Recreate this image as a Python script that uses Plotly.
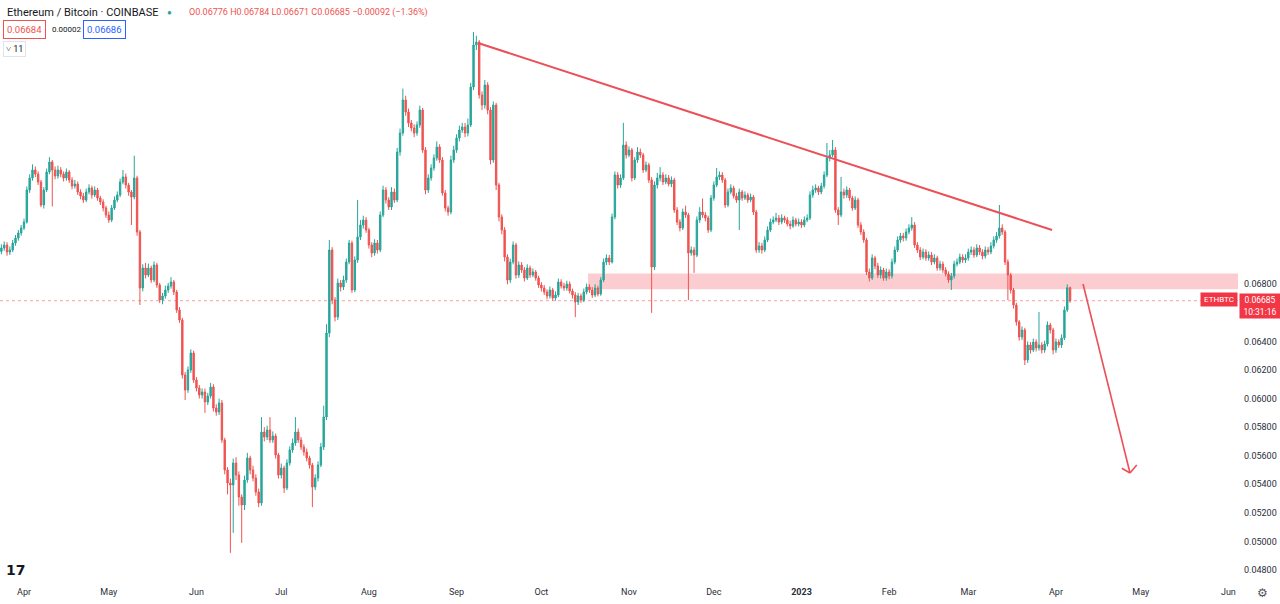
import pandas as pd
import plotly.graph_objects as go

# ---------------- data (ETH/BTC daily, Coinbase) ----------------
first_date = "2022-03-24"
first_open = 0.07030

close = [
 0.07054,0.07075,0.07026,0.07040,0.07089,0.07124,0.07159,0.07194,0.07236,0.07460,
 0.07544,0.07600,0.07572,0.07516,0.07355,0.07460,0.07586,0.07656,0.07600,0.07558,
 0.07600,0.07572,0.07544,0.07586,0.07530,0.07488,0.07502,0.07446,0.07418,0.07390,
 0.07446,0.07474,0.07425,0.07460,0.07404,0.07376,0.07334,0.07285,0.07250,0.07334,
 0.07390,0.07425,0.07516,0.07551,0.07495,0.07446,0.07411,0.07544,0.07166,0.06774,
 0.06914,0.06865,0.06914,0.06830,0.06935,0.06795,0.06690,0.06718,0.06760,0.06788,
 0.06816,0.06746,0.06620,0.06550,0.06165,0.06060,0.06200,0.06319,0.06130,0.06074,
 0.06025,0.06046,0.05976,0.06018,0.06081,0.05934,0.05906,0.05969,0.05710,0.05500,
 0.05409,0.05395,0.05549,0.05465,0.05311,0.05255,0.05430,0.05584,0.05500,0.05444,
 0.05346,0.05269,0.05766,0.05731,0.05780,0.05710,0.05738,0.05605,0.05465,0.05514,
 0.05374,0.05549,0.05640,0.05689,0.05766,0.05710,0.05661,0.05626,0.05584,0.05535,
 0.05381,0.05444,0.05535,0.05661,0.05871,0.06459,0.07040,0.06690,0.06571,0.06809,
 0.06781,0.06830,0.06956,0.07089,0.06760,0.06970,0.07131,0.07215,0.07250,0.07180,
 0.07075,0.07019,0.07089,0.07040,0.07285,0.07460,0.07390,0.07341,0.07446,0.07390,
 0.07726,0.07859,0.08090,0.08006,0.07929,0.07894,0.07859,0.07915,0.08020,0.07740,
 0.07460,0.07544,0.07614,0.07684,0.07761,0.07670,0.07439,0.07334,0.07306,0.07670,
 0.07740,0.07824,0.07880,0.07901,0.07859,0.07915,0.08181,0.08475,0.08496,0.08125,
 0.08055,0.08195,0.08020,0.07670,0.08055,0.07495,0.07271,0.07180,0.06991,0.06830,
 0.06956,0.07075,0.06865,0.06935,0.06900,0.06844,0.06914,0.06865,0.06886,0.06844,
 0.06795,0.06774,0.06746,0.06718,0.06760,0.06704,0.06725,0.06816,0.06788,0.06774,
 0.06802,0.06753,0.06725,0.06676,0.06718,0.06690,0.06746,0.06781,0.06760,0.06725,
 0.06774,0.06732,0.06830,0.06956,0.06984,0.06956,0.07271,0.07565,0.07495,0.07544,
 0.07775,0.07705,0.07740,0.07544,0.07670,0.07726,0.07705,0.07600,0.07635,0.07530,
 0.06921,0.07495,0.07544,0.07565,0.07516,0.07544,0.07502,0.07530,0.07320,0.07236,
 0.07194,0.07306,0.07285,0.07019,0.07040,0.07005,0.07250,0.07306,0.07285,0.07264,
 0.07180,0.07404,0.07495,0.07551,0.07565,0.07530,0.07355,0.07446,0.07474,0.07418,
 0.07390,0.07446,0.07404,0.07425,0.07390,0.07411,0.07306,0.07040,0.07068,0.07040,
 0.07110,0.07180,0.07236,0.07250,0.07264,0.07236,0.07264,0.07250,0.07222,0.07208,
 0.07250,0.07222,0.07236,0.07215,0.07250,0.07264,0.07425,0.07460,0.07474,0.07446,
 0.07488,0.07565,0.07684,0.07705,0.07740,0.07320,0.07285,0.07446,0.07425,0.07460,
 0.07404,0.07334,0.07390,0.07215,0.07166,0.07110,0.06886,0.06844,0.06984,0.06928,
 0.06865,0.06900,0.06844,0.06886,0.06858,0.06956,0.07040,0.07110,0.07138,0.07124,
 0.07166,0.07194,0.07215,0.07075,0.07040,0.06991,0.07026,0.06984,0.07005,0.06956,
 0.06984,0.06914,0.06942,0.06900,0.06872,0.06830,0.06858,0.06942,0.06956,0.06991,
 0.06970,0.06984,0.07026,0.07040,0.07005,0.07054,0.07026,0.06998,0.07040,0.07026,
 0.07068,0.07110,0.07138,0.07194,0.07166,0.06956,0.06865,0.06760,0.06655,0.06536,
 0.06431,0.06480,0.06270,0.06375,0.06340,0.06396,0.06354,0.06375,0.06340,0.06382,
 0.06515,0.06480,0.06340,0.06396,0.06375,0.06424,0.06620,0.06776,0.06685,
]

high = [
 0.07080,0.07100,0.07095,0.07065,0.07110,0.07145,0.07180,0.07215,0.07260,0.07485,
 0.07570,0.07640,0.07625,0.07590,0.07530,0.07480,0.07610,0.07690,0.07670,0.07625,
 0.07630,0.07620,0.07590,0.07610,0.07600,0.07550,0.07530,0.07520,0.07465,0.07440,
 0.07470,0.07500,0.07490,0.07485,0.07475,0.07420,0.07395,0.07350,0.07310,0.07355,
 0.07415,0.07450,0.07540,0.07600,0.07575,0.07510,0.07460,0.07700,0.07560,0.07180,
 0.06940,0.06950,0.06945,0.06930,0.06960,0.06950,0.06810,0.06740,0.06790,0.06810,
 0.06850,0.06830,0.06760,0.06640,0.06565,0.06185,0.06225,0.06345,0.06335,0.06150,
 0.06095,0.06070,0.06070,0.06040,0.06110,0.06100,0.05960,0.06000,0.05990,0.05725,
 0.05520,0.05440,0.05580,0.05590,0.05490,0.05330,0.05460,0.05620,0.05600,0.05530,
 0.05470,0.05370,0.05870,0.05800,0.05810,0.05870,0.05770,0.05755,0.05620,0.05545,
 0.05530,0.05575,0.05665,0.05720,0.05870,0.05790,0.05730,0.05680,0.05650,0.05600,
 0.05550,0.05470,0.05560,0.05690,0.05950,0.06520,0.07110,0.07060,0.06710,0.06840,
 0.06830,0.06860,0.06980,0.07110,0.07105,0.06995,0.07390,0.07250,0.07280,0.07270,
 0.07195,0.07095,0.07115,0.07110,0.07310,0.07490,0.07480,0.07410,0.07480,0.07470,
 0.07755,0.07890,0.08170,0.08120,0.08030,0.07950,0.07920,0.07940,0.08050,0.08035,
 0.07760,0.07570,0.07640,0.07710,0.07800,0.07780,0.07690,0.07460,0.07350,0.07700,
 0.07770,0.07850,0.07910,0.07930,0.07930,0.07960,0.08210,0.08566,0.08540,0.08510,
 0.08150,0.08230,0.08215,0.08040,0.08080,0.08070,0.07510,0.07290,0.07200,0.07010,
 0.06980,0.07100,0.07090,0.06960,0.06955,0.06920,0.06940,0.06930,0.06910,0.06900,
 0.06860,0.06815,0.06795,0.06765,0.06785,0.06775,0.06750,0.06840,0.06835,0.06810,
 0.06825,0.06820,0.06770,0.06745,0.06740,0.06735,0.06770,0.06805,0.06800,0.06780,
 0.06800,0.06790,0.06850,0.06980,0.07010,0.07005,0.07295,0.07590,0.07585,0.07570,
 0.07930,0.07800,0.07765,0.07755,0.07690,0.07760,0.07750,0.07720,0.07660,0.07650,
 0.07550,0.07520,0.07580,0.07620,0.07585,0.07570,0.07565,0.07555,0.07545,0.07340,
 0.07255,0.07330,0.07350,0.07300,0.07065,0.07060,0.07275,0.07340,0.07400,0.07305,
 0.07280,0.07425,0.07520,0.07614,0.07590,0.07585,0.07545,0.07470,0.07500,0.07490,
 0.07440,0.07470,0.07460,0.07450,0.07440,0.07435,0.07425,0.07320,0.07095,0.07090,
 0.07135,0.07205,0.07260,0.07275,0.07300,0.07285,0.07290,0.07280,0.07270,0.07245,
 0.07275,0.07265,0.07260,0.07255,0.07275,0.07290,0.07450,0.07490,0.07500,0.07490,
 0.07510,0.07590,0.07789,0.07740,0.07810,0.07760,0.07340,0.07551,0.07470,0.07485,
 0.07475,0.07420,0.07415,0.07405,0.07235,0.07185,0.07125,0.06910,0.07010,0.07000,
 0.06950,0.06925,0.06915,0.06910,0.06905,0.06980,0.07065,0.07135,0.07160,0.07160,
 0.07190,0.07220,0.07270,0.07235,0.07095,0.07060,0.07050,0.07045,0.07030,0.07025,
 0.07010,0.07000,0.06965,0.06960,0.06920,0.06890,0.06880,0.06965,0.06980,0.07015,
 0.07010,0.07010,0.07050,0.07065,0.07060,0.07080,0.07075,0.07045,0.07065,0.07060,
 0.07095,0.07135,0.07165,0.07355,0.07220,0.07180,0.06975,0.06880,0.06775,0.06670,
 0.06550,0.06505,0.06495,0.06400,0.06395,0.06420,0.06415,0.06606,0.06395,0.06405,
 0.06540,0.06530,0.06495,0.06420,0.06415,0.06450,0.06645,0.06800,0.06784,
]

low = [
 0.07010,0.07035,0.07000,0.07005,0.07025,0.07070,0.07105,0.07140,0.07180,0.07225,
 0.07440,0.07525,0.07550,0.07495,0.07340,0.07330,0.07445,0.07570,0.07345,0.07535,
 0.07540,0.07550,0.07520,0.07525,0.07510,0.07465,0.07470,0.07425,0.07395,0.07370,
 0.07375,0.07430,0.07400,0.07410,0.07385,0.07355,0.07310,0.07265,0.07230,0.07235,
 0.07320,0.07375,0.07410,0.07500,0.07470,0.07420,0.07215,0.07395,0.07140,0.06655,
 0.06750,0.06840,0.06850,0.06810,0.06815,0.06775,0.06670,0.06660,0.06700,0.06740,
 0.06770,0.06725,0.06600,0.06530,0.06140,0.05990,0.06040,0.06180,0.06110,0.06050,
 0.06000,0.06000,0.05900,0.05955,0.06000,0.05910,0.05880,0.05885,0.05690,0.05470,
 0.05330,0.04920,0.05060,0.05430,0.05250,0.04990,0.05220,0.05410,0.05470,0.05420,
 0.05320,0.05240,0.05250,0.05700,0.05710,0.05690,0.05690,0.05580,0.05440,0.05440,
 0.05340,0.05360,0.05530,0.05620,0.05670,0.05690,0.05640,0.05600,0.05560,0.05510,
 0.05240,0.05360,0.05420,0.05520,0.05640,0.05850,0.06430,0.06660,0.06540,0.06550,
 0.06750,0.06760,0.06810,0.06940,0.06740,0.06745,0.06950,0.07110,0.07190,0.07160,
 0.07050,0.06990,0.07000,0.07015,0.07025,0.07270,0.07365,0.07320,0.07320,0.07370,
 0.07375,0.07700,0.07840,0.07980,0.07900,0.07870,0.07830,0.07840,0.07895,0.07720,
 0.07430,0.07440,0.07525,0.07595,0.07665,0.07650,0.07420,0.07310,0.07280,0.07290,
 0.07650,0.07720,0.07800,0.07860,0.07830,0.07835,0.07900,0.08160,0.08440,0.08100,
 0.08020,0.08030,0.07990,0.07640,0.07650,0.07460,0.07240,0.07150,0.06960,0.06800,
 0.06810,0.06940,0.06840,0.06845,0.06880,0.06820,0.06830,0.06845,0.06850,0.06825,
 0.06775,0.06750,0.06725,0.06695,0.06700,0.06685,0.06685,0.06710,0.06770,0.06755,
 0.06755,0.06735,0.06700,0.06570,0.06655,0.06670,0.06675,0.06730,0.06740,0.06705,
 0.06710,0.06715,0.06720,0.06815,0.06935,0.06935,0.06945,0.07255,0.07470,0.07475,
 0.07530,0.07680,0.07690,0.07520,0.07530,0.07650,0.07685,0.07580,0.07585,0.07510,
 0.06600,0.06900,0.07470,0.07520,0.07495,0.07500,0.07485,0.07480,0.07300,0.07215,
 0.07170,0.07180,0.07265,0.06690,0.07000,0.06880,0.06990,0.07230,0.07265,0.07240,
 0.07160,0.07165,0.07385,0.07480,0.07530,0.07510,0.07335,0.07340,0.07430,0.07400,
 0.07370,0.07180,0.07385,0.07390,0.07370,0.07375,0.07285,0.07020,0.07020,0.07015,
 0.07025,0.07095,0.07165,0.07220,0.07235,0.07215,0.07220,0.07230,0.07205,0.07185,
 0.07195,0.07205,0.07205,0.07195,0.07200,0.07235,0.07250,0.07405,0.07440,0.07425,
 0.07430,0.07470,0.07550,0.07660,0.07690,0.07300,0.07215,0.07270,0.07400,0.07405,
 0.07385,0.07315,0.07320,0.07195,0.07145,0.07090,0.06865,0.06820,0.06830,0.06905,
 0.06845,0.06840,0.06825,0.06825,0.06835,0.06840,0.06940,0.07025,0.07090,0.07100,
 0.07105,0.07150,0.07175,0.07055,0.07020,0.06970,0.06975,0.06965,0.06965,0.06935,
 0.06940,0.06895,0.06895,0.06880,0.06855,0.06810,0.06760,0.06840,0.06925,0.06940,
 0.06950,0.06950,0.06965,0.07005,0.06985,0.06990,0.07005,0.06975,0.06980,0.07005,
 0.07010,0.07050,0.07090,0.07120,0.07145,0.06935,0.06690,0.06735,0.06630,0.06510,
 0.06405,0.06410,0.06235,0.06250,0.06315,0.06325,0.06330,0.06335,0.06315,0.06320,
 0.06365,0.06455,0.06310,0.06320,0.06355,0.06355,0.06410,0.06605,0.06671,
]

# drawings made on the chart (data coordinates)
trend_line = [("2022-09-08 14:00", 0.08489), ("2023-03-30 15:00", 0.07180)]
zone = {"x0": "2022-10-17 12:00", "y0": 0.06765, "y1": 0.06875}
arrow_line = [("2023-04-10 14:00", 0.06802), ("2023-04-27 05:00", 0.05479)]
arrow_head = [("2023-04-24 07:00", 0.05512), ("2023-04-27 05:00", 0.05479), ("2023-04-29 14:00", 0.05535)]
last_price = 0.06685

month_ticks = ["2022-04-01", "2022-05-01", "2022-06-01", "2022-07-01", "2022-08-01",
               "2022-09-01", "2022-10-01", "2022-11-01", "2022-12-01", "2023-01-01",
               "2023-02-01", "2023-03-01", "2023-04-01", "2023-05-01", "2023-06-01"]
month_labels = ["Apr", "May", "Jun", "Jul", "Aug", "Sep", "Oct", "Nov", "Dec", "<b>2023</b>",
                "Feb", "Mar", "Apr", "May", "Jun"]
price_ticks = [0.048, 0.050, 0.052, 0.054, 0.056, 0.058, 0.060, 0.062, 0.064, 0.068]

# ---------------- figure ----------------
dates = pd.date_range(first_date, periods=len(close), freq="D")
opens = [first_open] + close[:-1]

UP = "#26a69a"
DOWN = "#ef5350"
DRAW = "#ec4f57"

W, H = 1280, 604
ML, MR, MT, MB = 0, 42, 0, 24
PW, PH = W - ML - MR, H - MT - MB
X_RANGE = ["2022-03-23 12:15", "2023-06-04 09:30"]
Y_RANGE = [0.0473, 0.0879]


def px(x):
    return (x - ML) / PW


def py(y):
    return 1 - (y - MT) / PH


fig = go.Figure()
fig.add_trace(go.Candlestick(
    x=dates, open=opens, high=high, low=low, close=close,
    increasing=dict(line=dict(color=UP, width=1), fillcolor=UP),
    decreasing=dict(line=dict(color=DOWN, width=1), fillcolor=DOWN),
    whiskerwidth=0, showlegend=False, hoverinfo="skip",
))

shapes = []
# support / resistance zone
shapes.append(dict(type="rect", xref="x", yref="y", x0=zone["x0"], x1=X_RANGE[1],
                   y0=zone["y0"], y1=zone["y1"], fillcolor="rgba(242,54,69,0.25)",
                   line=dict(width=0), layer="below"))
# last price dotted line
shapes.append(dict(type="line", xref="paper", yref="y", x0=0, x1=1, y0=last_price, y1=last_price,
                   line=dict(color="rgba(239,83,80,0.55)", width=1, dash="dot"), layer="below"))
# descending trend line
shapes.append(dict(type="line", xref="x", yref="y",
                   x0=trend_line[0][0], y0=trend_line[0][1], x1=trend_line[1][0], y1=trend_line[1][1],
                   line=dict(color=DRAW, width=2)))
# arrow
shapes.append(dict(type="line", xref="x", yref="y",
                   x0=arrow_line[0][0], y0=arrow_line[0][1], x1=arrow_line[1][0], y1=arrow_line[1][1],
                   line=dict(color=DRAW, width=1.6)))
for a, b in [(arrow_head[0], arrow_head[1]), (arrow_head[1], arrow_head[2])]:
    shapes.append(dict(type="line", xref="x", yref="y", x0=a[0], y0=a[1], x1=b[0], y1=b[1],
                       line=dict(color=DRAW, width=1.6)))

ann = []
FONT = "Roboto"
# header
ann.append(dict(x=px(5), y=py(12), xref="paper", yref="paper", xanchor="left", yanchor="middle",
                text="Ethereum / Bitcoin · COINBASE", showarrow=False,
                font=dict(family=FONT, size=11, color="#131722")))
ann.append(dict(x=px(170), y=py(12), xref="paper", yref="paper", xanchor="center", yanchor="middle",
                text="●", showarrow=False, font=dict(family=FONT, size=8, color=UP)))
ann.append(dict(x=px(187), y=py(12), xref="paper", yref="paper", xanchor="left", yanchor="middle",
                text="O0.06776 H0.06784 L0.06671 C0.06685 −0.00092 (−1.36%)", showarrow=False,
                font=dict(family=FONT, size=9, color=DOWN)))
ann.append(dict(x=px(3), y=py(29), xref="paper", yref="paper", xanchor="left", yanchor="middle",
                text="0.06684", showarrow=False, bordercolor=DOWN, borderwidth=1, borderpad=3,
                bgcolor="white", font=dict(family=FONT, size=9.5, color=DOWN)))
ann.append(dict(x=px(50), y=py(29), xref="paper", yref="paper", xanchor="left", yanchor="middle",
                text="0.00002", showarrow=False, font=dict(family=FONT, size=8, color="#131722")))
ann.append(dict(x=px(83), y=py(29), xref="paper", yref="paper", xanchor="left", yanchor="middle",
                text="0.06686", showarrow=False, bordercolor="#2962ff", borderwidth=1, borderpad=3,
                bgcolor="white", font=dict(family=FONT, size=9.5, color="#2962ff")))
ann.append(dict(x=px(3), y=py(49), xref="paper", yref="paper", xanchor="left", yanchor="middle",
                text="˅ 11", showarrow=False, bordercolor="#e0e3eb", borderwidth=1, borderpad=2,
                bgcolor="white", font=dict(family=FONT, size=9, color="#131722")))
# price label on the scale
ann.append(dict(x=px(1200), y=py(299.5), xref="paper", yref="paper", xanchor="left", yanchor="middle",
                text="ETHBTC", showarrow=False, bgcolor="#f23645", width=34, height=11, borderpad=1,
                font=dict(family=FONT, size=8, color="white")))
ann.append(dict(x=px(1239), y=py(293), xref="paper", yref="paper", xanchor="left", yanchor="top",
                text="0.06685<br>10:31:16", showarrow=False, bgcolor="#f23645", width=38, height=22,
                borderpad=1, align="center",
                font=dict(family=FONT, size=8.5, color="white")))
# logo and settings icon
ann.append(dict(x=px(4), y=py(570), xref="paper", yref="paper", xanchor="left", yanchor="middle",
                text="<b>17</b>", showarrow=False,
                font=dict(family="DejaVu Sans", size=14, color="#131722")))
ann.append(dict(x=px(1262), y=py(593), xref="paper", yref="paper", xanchor="center", yanchor="middle",
                text="⚙", showarrow=False, font=dict(family="DejaVu Sans", size=12, color="#50535e")))

fig.update_layout(
    width=W, height=H,
    margin=dict(l=ML, r=MR, t=MT, b=MB, autoexpand=False),
    paper_bgcolor="white", plot_bgcolor="white",
    shapes=shapes, annotations=ann,
    showlegend=False, hovermode=False,
    xaxis=dict(type="date", range=X_RANGE, rangeslider=dict(visible=False),
               tickvals=month_ticks, ticktext=month_labels, showgrid=False, zeroline=False,
               showline=False, ticks="", automargin=False, ticklabelstandoff=5,
               tickfont=dict(family=FONT, size=9, color="#2a2e39")),
    yaxis=dict(side="right", range=Y_RANGE, tickvals=price_ticks,
               ticktext=[f"{v:.5f}" for v in price_ticks], showgrid=False, zeroline=False,
               showline=False, ticks="", automargin=False, ticklabelstandoff=5,
               tickfont=dict(family=FONT, size=9, color="#2a2e39")),
)

fig.write_html("out.html", config={"displayModeBar": False},
               post_script="document.body.style.margin='0';document.body.style.overflow='hidden';")
